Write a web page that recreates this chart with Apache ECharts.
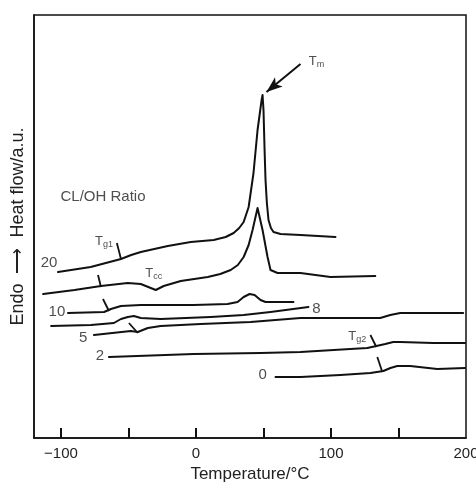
<!DOCTYPE html>
<html><head><meta charset="utf-8">
<script src="https://cdn.jsdelivr.net/npm/echarts@6/dist/echarts.min.js"></script>
<style>html,body{margin:0;padding:0;background:#fff}#c{width:476px;height:483px}</style>
</head><body><div id="c"></div>
<script>
// Temperature (°C), heat flow (arbitrary units)
const curve20 = [[-102.2,166],[-78,171],[-55.6,179],[-48,183],[-40.9,186],[-20.9,192],[-3.9,196],[13.1,198],[22,201],[27.9,205],[32,210],[35.3,216],[39,231],[42.6,265],[45.6,308],[48.6,338],[49.3,343],[50.0,328],[50.8,288],[51.5,258],[52.5,235],[53.7,218],[55.5,210],[57.4,206],[62.6,204],[77.4,203],[103.3,201]];
const curve15 = [[-113.2,144],[-90,148],[-70.4,152],[-50.5,155],[-40.9,154],[-33.5,150],[-29.8,148],[-23.9,152],[-11.3,157],[8.7,161],[18,164],[25.7,168],[31,173],[35.3,181],[39,193],[41.9,208],[45.6,230],[49.3,208],[53.0,181],[55.2,168],[60.4,165],[77.4,165],[99.6,161],[132.8,162]];
const curve10 = [[-94.8,125],[-68.1,126],[-63.0,129],[-55.6,132],[-40.9,133],[-1.7,133],[23.4,134],[30.8,136],[35.3,141],[39.7,144],[43.4,143],[47.8,138],[51.5,136],[72.2,136]];
const curve8 = [[-107.3,112],[-77.8,113],[-60.8,115],[-55.6,119],[-50.5,121],[-46.0,122],[-40.9,120],[-26.1,119],[10.9,121],[35.3,123],[55.2,126],[83.3,131]];
const curve5 = [[-75.6,103],[-48.3,107],[-43.1,106],[-35.7,110],[-26.1,112],[3.5,114],[40.4,116],[77.4,120],[136.5,120],[143.9,123],[151.3,125],[197.9,125]];
const curve2 = [[-64.5,81],[-1.7,84],[47.8,85],[77.4,86],[114.3,89],[126.9,90],[133.6,92],[140.2,94],[146.1,96],[151.3,96],[175.7,95],[199.3,95]];
const curve0 = [[58.9,61],[77.4,61],[107.0,63],[129.2,65],[138.8,67],[144.0,70],[149.1,72],[158.7,72],[178.7,69],[199.3,70]];
const curves = [curve20, curve15, curve10, curve8, curve5, curve2, curve0];

// Tg marker strokes [start, end]
const markers = [
  [[-58.6,195],[-55.6,179]],
  [[-72.6,163],[-70.4,151]],
  [[-68.9,139],[-64.5,127]],
  [[-49.7,115],[-43.1,105]],
  [[129.2,103],[133.6,91]],
  [[134.3,81],[138.0,66]]
];
const tmArrow = [[77.4,374],[52.2,346]];

// text annotations [T, flow, text]
const annotations = [
  [-68.9,241,'{c|CL/OH Ratio}'],
  [-108.8,175,'{n|20}'],
  [-103,126,'{n|10}'],
  [-83.6,100,'{n|5}'],
  [-71.1,82,'{n|2}'],
  [49.3,63,'{n|0}'],
  [89.2,129,'{n|8}'],
  [-68.2,197,'{t|T}{s|g1}'],
  [-31.3,165,'{t|T}{s|cc}'],
  [119.5,102,'{t|T}{s|g2}'],
  [89.2,377,'{t|T}{s|m}']
];
const xTicks = [-100,-50,0,50,100,150];
const xLabels = [-100,0,100,200];

const chart = echarts.init(document.getElementById('c'), null, {renderer:'canvas'});
const FONT = 'Liberation Sans, Arial, sans-serif';
const series = curves.map(c => ({
  type:'line', data:c, symbol:'none', smooth:false,
  lineStyle:{color:'#111', width:2, join:'round', cap:'round'}, z:3, silent:true
}));
markers.forEach(m => series.push({
  type:'line', data:m, symbol:'none', lineStyle:{color:'#111', width:1.8}, z:4, silent:true
}));
series.push({
  type:'line', data:[], silent:true,
  markLine:{silent:true, symbol:['none','arrow'], symbolSize:[9,16], label:{show:false},
    lineStyle:{color:'#111', width:2, type:'solid'},
    data:[[{coord:tmArrow[0]},{coord:tmArrow[1]}]]}
});
series.push({
  type:'scatter', symbolSize:0, silent:true, z:5,
  data: annotations.map(a => ({value:[a[0],a[1]], text:a[2]})),
  label:{show:true, position:'inside', formatter: p => p.data.text,
    rich:{
      n:{fontFamily:FONT, fontSize:15, color:'#222'},
      c:{fontFamily:FONT, fontSize:15, color:'#222'},
      t:{fontFamily:FONT, fontSize:13, color:'#222'},
      s:{fontFamily:FONT, fontSize:9, color:'#222', padding:[7,0,0,0]}
    }}
});

chart.setOption({
  animation:false,
  backgroundColor:'#fff',
  grid:{left:34, right:10, top:15, bottom:45, show:true, borderColor:'#111', borderWidth:1.5,
    backgroundColor:'transparent', containLabel:false, outerBoundsMode:'none'},
  xAxis:{
    type:'value', min:-120, max:200,
    name:'Temperature/°C', nameLocation:'middle', nameGap:27,
    nameTextStyle:{fontFamily:FONT, fontSize:17, color:'#222'},
    axisLine:{show:true, onZero:false, lineStyle:{color:'#111', width:1.5}},
    axisTick:{show:true, inside:true, length:10, lineStyle:{color:'#111', width:2}, customValues:xTicks},
    axisLabel:{fontFamily:FONT, fontSize:15, color:'#222', margin:8, customValues:xLabels,
      formatter: v => String(v).replace('-', '\u2212')},
    splitLine:{show:false}
  },
  yAxis:{
    type:'value', min:0, max:423,
    name:'Endo  \u27F6  Heat flow/a.u.', nameLocation:'middle', nameGap:7, nameRotate:90,
    nameTextStyle:{fontFamily:FONT, fontSize:18, color:'#222'},
    axisLine:{show:true, onZero:false, lineStyle:{color:'#111', width:1.5}},
    axisTick:{show:false}, axisLabel:{show:false}, splitLine:{show:false}
  },
  series: series
});
</script></body></html>
